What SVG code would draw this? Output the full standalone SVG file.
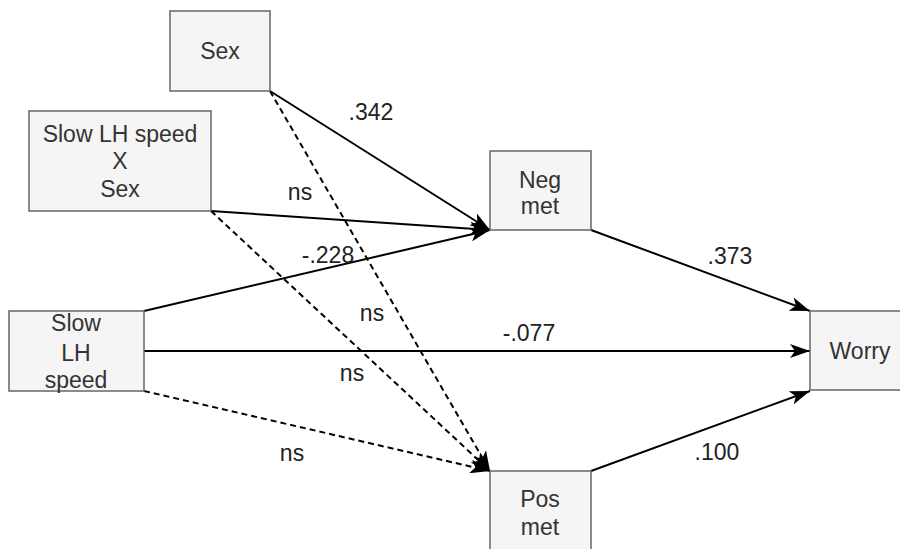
<svg xmlns="http://www.w3.org/2000/svg" width="900" height="549" viewBox="0 0 900 549">
<style>
.box{fill:#f5f5f5;stroke:#666666;stroke-width:1.5}
.nt{font-family:"Liberation Sans",Arial,sans-serif;font-size:23px;fill:#333333;text-anchor:middle}
.lb{font-family:"Liberation Sans",Arial,sans-serif;font-size:23px;fill:#222222;text-anchor:middle}
.ln{fill:none;stroke:#000000;stroke-width:2}
.ds{stroke-dasharray:6 4}
</style>
<defs>
<marker id="arr" viewBox="0 0 20 14" refX="20" refY="7" markerWidth="20" markerHeight="14" markerUnits="userSpaceOnUse" orient="auto">
<path d="M0,0 L20,7 L0,14 L5,7 z" fill="#000000"/>
</marker>
</defs>
<rect width="900" height="549" fill="#ffffff"/>
<g id="connectors">
<line class="ln" x1="270" y1="91" x2="490" y2="230" marker-end="url(#arr)"/>
<line class="ln ds" x1="270" y1="91" x2="490" y2="471" marker-end="url(#arr)"/>
<line class="ln" x1="211" y1="211" x2="490" y2="230" marker-end="url(#arr)"/>
<line class="ln ds" x1="211" y1="211" x2="490" y2="471" marker-end="url(#arr)"/>
<line class="ln" x1="144" y1="311" x2="490" y2="230" marker-end="url(#arr)"/>
<line class="ln" x1="144" y1="351" x2="810" y2="351" marker-end="url(#arr)"/>
<line class="ln ds" x1="144" y1="391" x2="490" y2="471" marker-end="url(#arr)"/>
<line class="ln" x1="591" y1="230" x2="810" y2="311" marker-end="url(#arr)"/>
<line class="ln" x1="591" y1="471" x2="810" y2="391" marker-end="url(#arr)"/>
<text class="lb" x="371" y="120">.342</text>
<text class="lb" x="300" y="200">ns</text>
<text class="lb" x="328" y="263">-.228</text>
<text class="lb" x="372" y="321">ns</text>
<text class="lb" x="529" y="341">-.077</text>
<text class="lb" x="352" y="381">ns</text>
<text class="lb" x="292" y="461">ns</text>
<text class="lb" x="730" y="264">.373</text>
<text class="lb" x="717" y="460">.100</text>
</g>
<g id="sex">
<rect class="box" x="170" y="11" width="100" height="80"/>
<text class="nt" x="220" y="59">Sex</text>
</g>
<g id="slowxsex">
<rect class="box" x="29" y="111" width="182" height="100"/>
<text class="nt" x="120" y="142">Slow LH speed</text>
<text class="nt" x="120" y="169">X</text>
<text class="nt" x="120" y="197">Sex</text>
</g>
<g id="negmet">
<rect class="box" x="490" y="151" width="101" height="79"/>
<text class="nt" x="540" y="188">Neg</text>
<text class="nt" x="540" y="214">met</text>
</g>
<g id="slowlh">
<rect class="box" x="9" y="311" width="135" height="80"/>
<text class="nt" x="76" y="331">Slow</text>
<text class="nt" x="76" y="361">LH</text>
<text class="nt" x="76" y="388">speed</text>
</g>
<g id="worry">
<rect class="box" x="810" y="311" width="100" height="79"/>
<text class="nt" x="860" y="359">Worry</text>
</g>
<g id="posmet">
<rect class="box" x="490" y="471" width="101" height="80"/>
<text class="nt" x="540" y="507">Pos</text>
<text class="nt" x="540" y="535">met</text>
</g>
</svg>
